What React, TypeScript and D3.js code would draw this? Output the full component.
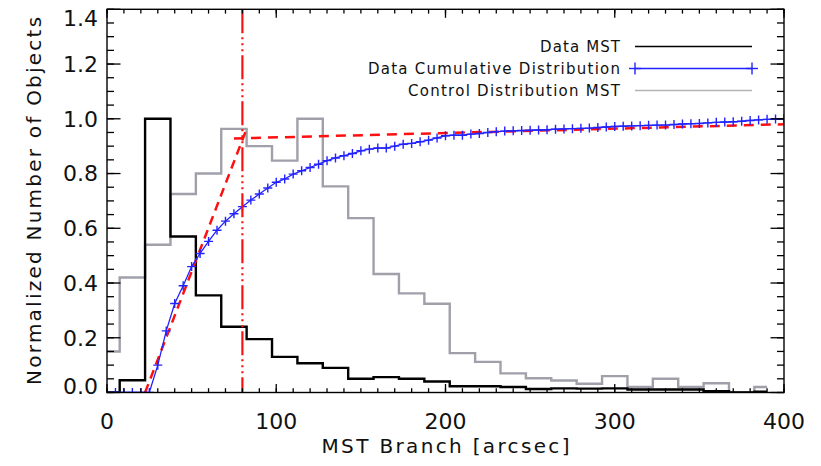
import React from 'react';
import * as d3 from 'd3';

// Histogram bin centres (arcsec) shared by the two MST histograms
const binCenters = [
  0, 15, 30, 45, 60, 75, 90, 105, 120, 135, 150, 165, 180, 195, 210,
  225, 240, 255, 270, 285, 300, 315, 330, 345, 360, 375, 390,
];

// Normalized MST branch-length histogram of the data
const dataMST = [
  0, 0.045, 1.0, 0.57, 0.355, 0.24, 0.195, 0.13, 0.107, 0.09, 0.05, 0.056, 0.05, 0.04, 0.023,
  0.023, 0.02, 0.013, 0.015, 0.014, 0.015, 0.011, 0.011, 0.011, 0.005, 0, 0.003,
];

// Normalized MST branch-length histogram of the control distribution
const controlMST = [
  0.15, 0.42, 0.54, 0.725, 0.8, 0.963, 0.9, 0.847, 1.0, 0.753, 0.637, 0.433, 0.362, 0.324, 0.144,
  0.112, 0.07, 0.052, 0.044, 0.032, 0.06, 0.02, 0.05, 0.02, 0.034, 0, 0.02,
];

// Cumulative distribution of the data, sampled every 5 arcsec
const cumX = [
  0, 5, 10, 15, 20, 25, 30, 35, 40, 45, 50, 55, 60, 65, 70, 75, 80, 85, 90, 95,
  100, 105, 110, 115, 120, 125, 130, 135, 140, 145, 150, 155, 160, 165, 170, 175, 180, 185, 190, 195,
  200, 205, 210, 215, 220, 225, 230, 235, 240, 245, 250, 255, 260, 265, 270, 275, 280, 285, 290, 295,
  300, 305, 310, 315, 320, 325, 330, 335, 340, 345, 350, 355, 360, 365, 370, 375, 380, 385, 390, 395,
  400,
];
const cumY = [
  0, 0, 0, 0, 0, 0, 0.1, 0.225, 0.325, 0.39, 0.46, 0.508, 0.552, 0.593, 0.626, 0.653, 0.679, 0.703, 0.725, 0.747,
  0.768, 0.78, 0.798, 0.81, 0.822, 0.834, 0.847, 0.857, 0.865, 0.873, 0.883, 0.889, 0.893, 0.893, 0.9, 0.907, 0.91, 0.916, 0.922, 0.93,
  0.938, 0.94, 0.94, 0.944, 0.946, 0.95, 0.953, 0.955, 0.956, 0.957, 0.958, 0.959, 0.96, 0.962, 0.963, 0.964, 0.965, 0.966, 0.968, 0.97,
  0.972, 0.973, 0.974, 0.975, 0.976, 0.977, 0.977, 0.979, 0.981, 0.982, 0.983, 0.985, 0.987, 0.988, 0.989, 0.991, 0.994, 0.996, 0.998, 0.999,
  1.0,
];

// Two linear fits drawn as red dashed lines: [x, y] endpoints
const fitRise: [number, number][] = [[22.5, 0], [82, 0.955]];
const fitPlateau: [number, number][] = [[75, 0.928], [400, 0.98]];

// Break point of the fits (arcsec)
const breakX = 80;

const xMajor = [0, 100, 200, 300, 400];
const yMajor = [0, 0.2, 0.4, 0.6, 0.8, 1.0, 1.2, 1.4];

const legendItems = ['Data MST', 'Data Cumulative Distribution', 'Control Distribution MST'];

const W = 821;
const H = 466;
const L = 107;
const R = 784;
const T = 9.3;
const B = 392.5;

const FONT = "'DejaVu Sans', sans-serif";
const GRAY = '#a0a0aa';
const BLUE = '#2222ff';
const RED = '#ff1010';

export default function App() {
  const x = d3.scaleLinear().domain([0, 400]).range([L, R]);
  const y = d3.scaleLinear().domain([0, 1.4]).range([B, T]);

  const stepLine = d3
    .line<[number, number]>()
    .x((d) => x(d[0]))
    .y((d) => y(d[1]))
    .curve(d3.curveStep);
  const straight = d3
    .line<[number, number]>()
    .x((d) => x(d[0]))
    .y((d) => y(d[1]));

  const dataPts = binCenters.map((c, i) => [c, dataMST[i]] as [number, number]);
  const ctrlPts = binCenters.map((c, i) => [c, controlMST[i]] as [number, number]);
  const cumPts = cumX.map((c, i) => [c, cumY[i]] as [number, number]);

  const xMinor = d3.range(0, 401, 10);
  const yMinor = d3.range(0, 1.4001, 0.05);

  const yLen = 13.5;
  const yMinLen = 7;
  const xLen = 8.5;
  const xMinLen = 4.3;

  const plus = (cx: number, cy: number, h: number, key: string | number) => (
    <g key={key} stroke={BLUE} strokeWidth={1.4}>
      <line x1={cx - h} x2={cx + h} y1={cy} y2={cy} />
      <line x1={cx} x2={cx} y1={cy - h} y2={cy + h} />
    </g>
  );

  const legendY = [46.5, 68.5, 90.5];
  const legendW = [80, 252, 212];

  return (
    <svg
      width={W}
      height={H}
      style={{ position: 'absolute', left: 0, top: 0, background: '#fff' }}
      fontFamily={FONT}
    >
      <rect x={0} y={0} width={W} height={H} fill="#fff" />
      <defs>
        <clipPath id="plotArea">
          <rect x={L} y={T} width={R - L} height={B - T} />
        </clipPath>
      </defs>

      <g clipPath="url(#plotArea)">
        {/* control histogram */}
        <path d={stepLine(ctrlPts) || ''} fill="none" stroke={GRAY} strokeWidth={2.4} />
        {/* data histogram */}
        <path d={stepLine(dataPts) || ''} fill="none" stroke="#000" strokeWidth={2.4} />
        {/* linear fits */}
        <path d={straight(fitRise) || ''} fill="none" stroke={RED} strokeWidth={2.5} strokeDasharray="9 6" />
        <path d={straight(fitPlateau) || ''} fill="none" stroke={RED} strokeWidth={2.5} strokeDasharray="10 7" />
        {/* cumulative distribution */}
        <path d={straight(cumPts) || ''} fill="none" stroke={BLUE} strokeWidth={1.3} />
        {cumPts.map((p, i) => plus(x(p[0]), y(p[1]), 4.5, i))}
        {/* break point */}
        <line
          x1={x(breakX)}
          x2={x(breakX)}
          y1={T}
          y2={B}
          stroke={RED}
          strokeWidth={2.2}
          strokeDasharray="24 4 2 4 2 4 2 4"
        />
      </g>

      {/* frame */}
      <rect x={L} y={T} width={R - L} height={B - T} fill="none" stroke="#000" strokeWidth={1.4} />

      {/* ticks on all four sides */}
      <g stroke="#000" strokeWidth={1.3}>
        {yMinor.map((v, i) => (
          <g key={'ym' + i}>
            <line x1={L} x2={L + yMinLen} y1={y(v)} y2={y(v)} />
            <line x1={R} x2={R - yMinLen} y1={y(v)} y2={y(v)} />
          </g>
        ))}
        {yMajor.map((v, i) => (
          <g key={'yM' + i}>
            <line x1={L} x2={L + yLen} y1={y(v)} y2={y(v)} />
            <line x1={R} x2={R - yLen} y1={y(v)} y2={y(v)} />
          </g>
        ))}
        {xMinor.map((v, i) => (
          <g key={'xm' + i}>
            <line x1={x(v)} x2={x(v)} y1={B} y2={B - xMinLen} />
            <line x1={x(v)} x2={x(v)} y1={T} y2={T + xMinLen} />
          </g>
        ))}
        {xMajor.map((v, i) => (
          <g key={'xM' + i}>
            <line x1={x(v)} x2={x(v)} y1={B} y2={B - xLen} />
            <line x1={x(v)} x2={x(v)} y1={T} y2={T + xLen} />
          </g>
        ))}
      </g>

      {/* tick labels */}
      <g fill="#111" fontSize={22}>
        {yMajor.map((v, i) => {
          const cy = Math.min(Math.max(y(v), T + 9), B - 6);
          return (
            <text key={'yl' + i} x={98} y={cy} dy="0.36em" textAnchor="end">
              {d3.format('.1f')(v)}
            </text>
          );
        })}
        {xMajor.map((v, i) => (
          <text key={'xl' + i} x={x(v)} y={429} textAnchor="middle">
            {d3.format('d')(v)}
          </text>
        ))}
      </g>

      {/* axis titles */}
      <text x={(L + R) / 2} y={453} textAnchor="middle" fontSize={20} fill="#111" textLength={248} lengthAdjust="spacing">
        MST Branch [arcsec]
      </text>
      <text
        transform={`translate(41, ${(T + B) / 2}) rotate(-90)`}
        textAnchor="middle"
        fontSize={20}
        fill="#111"
        textLength={368}
        lengthAdjust="spacing"
      >
        Normalized Number of Objects
      </text>

      {/* legend */}
      <g fontSize={15} fill="#111">
        {legendItems.map((t, i) => (
          <text key={'lg' + i} x={620} y={legendY[i]} dy="0.36em" textAnchor="end" textLength={legendW[i]} lengthAdjust="spacing">
            {t}
          </text>
        ))}
      </g>
      <line x1={635} x2={752} y1={legendY[0]} y2={legendY[0]} stroke="#000" strokeWidth={1.4} />
      <line x1={635} x2={752} y1={legendY[1]} y2={legendY[1]} stroke={BLUE} strokeWidth={1.4} />
      {plus(635, legendY[1], 6, 'la')}
      {plus(752, legendY[1], 6, 'lb')}
      <line x1={635} x2={752} y1={legendY[2]} y2={legendY[2]} stroke="#b4b4b8" strokeWidth={1.4} />
    </svg>
  );
}
